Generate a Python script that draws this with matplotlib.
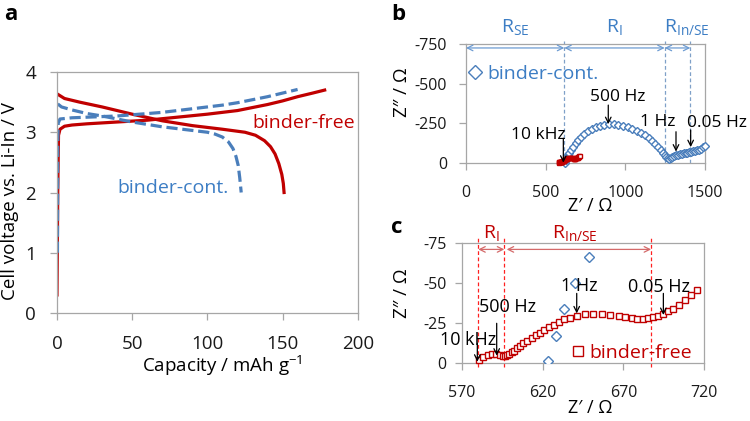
import matplotlib
matplotlib.use('Agg')
import matplotlib.pyplot as plt

plt.rcParams['font.family'] = ['Open Sans', 'DejaVu Sans']
plt.rcParams['axes.unicode_minus'] = False
plt.rcParams['mathtext.fontset'] = 'custom'
plt.rcParams['mathtext.rm'] = 'Open Sans'

RED = '#C00000'
BLUE = '#4A7EBB'
BLUE_TXT = '#3C7DC4'
FRAME = '#A6A6A6'

# panel a: charge / discharge curves (capacity mAh/g, voltage V)
free_chg_cap = [0, 0.5, 1, 2, 5, 10, 20, 40, 60, 80, 100, 120, 140, 150, 160, 170, 178]
free_chg_v = [0.3, 2.0, 2.95, 3.05, 3.1, 3.12, 3.14, 3.17, 3.2, 3.25, 3.3, 3.36, 3.46, 3.52, 3.59, 3.65, 3.7]
free_dis_cap = [0.5, 5, 15, 30, 50, 70, 90, 110, 125, 132, 138, 142, 145, 147.5, 149.5, 150.5, 151]
free_dis_v = [3.63, 3.56, 3.5, 3.42, 3.3, 3.19, 3.11, 3.05, 3.0, 2.95, 2.86, 2.76, 2.64, 2.48, 2.3, 2.15, 2.0]
cont_chg_cap = [0.3, 0.5, 0.8, 2, 10, 20, 30, 40, 50, 60, 70, 80, 90, 100, 110, 120, 130, 140, 150, 160]
cont_chg_v = [1.0, 2.8, 3.15, 3.22, 3.24, 3.25, 3.26, 3.27, 3.29, 3.31, 3.33, 3.36, 3.39, 3.42, 3.45, 3.49, 3.54, 3.59, 3.65, 3.71]
cont_dis_cap = [0.5, 3, 10, 20, 30, 40, 50, 60, 70, 80, 90, 100, 105, 110, 114, 117, 119, 120.5, 121.5, 122.5]
cont_dis_v = [3.47, 3.42, 3.37, 3.31, 3.27, 3.22, 3.17, 3.13, 3.09, 3.06, 3.03, 3.0, 2.97, 2.92, 2.84, 2.73, 2.6, 2.45, 2.25, 2.0]

# panels b, c: Nyquist data (Z' / Ohm, Z'' / Ohm)
cont_re = [623, 628, 633, 640, 649, 660, 673, 688, 704, 722, 742, 764, 788, 813, 840, 868, 897, 927,
           957, 987, 1016, 1045, 1073, 1099, 1124, 1147, 1168, 1188, 1206, 1222, 1236, 1248, 1258, 1266,
           1274, 1284, 1295, 1306, 1318, 1330, 1342, 1354, 1366, 1378, 1390, 1402, 1414, 1426, 1438,
           1450, 1462, 1474, 1486, 1497]
cont_im = [-1, -17, -34, -50, -66, -84, -103, -125, -145, -165, -183, -199, -213, -224, -233, -239, -243, -243,
           -240, -234, -226, -216, -203, -189, -174, -158, -141, -122, -103, -84, -66, -50, -38, -30,
           -28, -33, -38, -43, -48, -52, -56, -59, -62, -64, -66, -68, -70, -73, -76,
           -80, -85, -91, -98, -106]
free_re = [580.7, 583.2, 585.9, 588.4, 591.1, 593.6, 595.2, 596.7, 598.1, 599.3, 600.8, 602.2, 603.9, 606,
           608, 610.5, 613.2, 615.9, 618.4, 621, 624.1, 627, 630.3, 633.4, 637, 641.1, 646.3, 651.4,
           656.5, 661.8, 667, 671.1, 675.2, 678.7, 682, 685.5, 688.6, 691.7, 694.8, 697.9, 701, 704.7,
           708.2, 711.7, 715.5]
free_im = [-1.9, -3.9, -5.0, -5.4, -5.4, -5.0, -4.6, -4.6, -5.0, -5.6, -6.7, -7.7, -9.2, -10.6,
           -12.3, -14, -15.8, -17.5, -19, -20.6, -22.3, -23.8, -25.8, -27.3, -28.3, -29.6, -30.4, -30.6,
           -30.6, -30, -29.2, -28.8, -28.1, -27.7, -27.7, -28.1, -28.8, -29.6, -30.8, -32.3, -34, -36.5,
           -39.2, -42.3, -45.8]

# resistance boundaries (Z')
b_bounds = [0, 617, 1247, 1408]
b_labels = [r'R$_{\mathregular{SE}}$', r'R$_{\mathregular{I}}$', r'R$_{\mathregular{In/SE}}$']
c_bounds = [580.1, 596.2, 687.2]
c_labels = [r'R$_{\mathregular{I}}$', r'R$_{\mathregular{In/SE}}$']

# frequency annotations: label, text x, text y, arrow x, arrow start y, arrow end y
b_freq = [('10 kHz', 452, -176, 611, -156, -2),
          ('500 Hz', 954, -416, 893, -365, -245),
          ('1 Hz', 1205, -258, 1318, -197, -72),
          ('0.05 Hz', 1576, -252, 1410, -208, -100)]
c_freq = [('10 kHz', 573.6, -14.4, 579.5, -12.3, -0.8),
          ('500 Hz', 598.1, -35.2, 591.5, -24.8, -4.6),
          ('1 Hz', 642.5, -48, 641.1, -43.5, -31),
          ('0.05 Hz', 692, -47.7, 694.8, -43.5, -30)]


def style_axes(ax, fs, xpad, ypad):
    for s in ax.spines.values():
        s.set_color(FRAME)
        s.set_linewidth(0.9)
    ax.tick_params(colors=FRAME, labelcolor='#1a1a1a', labelsize=fs, length=5, width=0.9)
    ax.tick_params(axis='x', pad=xpad)
    ax.tick_params(axis='y', pad=ypad)


fig = plt.figure(figsize=(7.5, 4.21), dpi=100)

# ---------------- panel a
ax = fig.add_axes([0.076, 0.2565, 0.401, 0.5725])
ax.plot(free_chg_cap, free_chg_v, color=RED, lw=2.3)
ax.plot(free_dis_cap, free_dis_v, color=RED, lw=2.3)
ax.plot(cont_chg_cap, cont_chg_v, color=BLUE, lw=2.3, ls=(0, (3.5, 1.5)))
ax.plot(cont_dis_cap, cont_dis_v, color=BLUE, lw=2.3, ls=(0, (3.5, 1.5)))
ax.set_xlim(0, 200)
ax.set_ylim(0, 4)
ax.set_xticks([0, 50, 100, 150, 200])
ax.set_yticks([0, 1, 2, 3, 4])
style_axes(ax, 13.5, 11, 10)
ax.text(130, 3.15, 'binder-free', color=RED, fontsize=14, va='center', ha='left', clip_on=False)
ax.text(40, 2.08, 'binder-cont.', color=BLUE_TXT, fontsize=14, va='center', ha='left')
fig.text(222 / 750, 1 - 366 / 421, r'Capacity / mAh g$^{\mathregular{-1}}$', fontsize=13.5,
         ha='center', va='center')
fig.text(10 / 750, 1 - 201 / 421, 'Cell voltage vs. Li-In / V', fontsize=13.5,
         ha='center', va='center', rotation=90)
fig.text(0.005, 0.965, 'a', fontsize=16, fontweight='bold', ha='left', va='center')

# ---------------- panel b
bx = fig.add_axes([0.6213, 0.6128, 0.3187, 0.2827])
for xb in b_bounds[1:]:
    bx.plot([xb, xb], [0, -770], color='#7FA0C8', lw=0.9, ls=(0, (3, 2)), clip_on=False, zorder=1)
for i in range(3):
    bx.annotate('', xy=(b_bounds[i + 1], -725), xytext=(b_bounds[i], -725),
                arrowprops=dict(arrowstyle='<->', color='#6C9BD2', lw=0.9, shrinkA=0, shrinkB=0))
    bx.text((b_bounds[i] + b_bounds[i + 1]) / 2 if i < 2 else 1385, -849, b_labels[i],
            color=BLUE_TXT, fontsize=14, ha='center', va='center', clip_on=False)
bx.plot(cont_re, cont_im, ls='none', marker='D', ms=3.9, mfc='white', mec=BLUE, mew=1.0,
        label='binder-cont.', clip_on=False, zorder=3)
bx.plot(free_re, free_im, ls='none', marker='s', ms=3.2, mfc='white', mec=RED, mew=1.0,
        clip_on=False, zorder=4)
for lab, tx, ty, axx, ay0, ay1 in b_freq:
    bx.text(tx, ty, lab, fontsize=12.5, ha='center', va='center', clip_on=False, zorder=6)
    bx.annotate('', xy=(axx, ay1), xytext=(axx, ay0),
                arrowprops=dict(arrowstyle='->', color='black', lw=0.9, shrinkA=0, shrinkB=0), zorder=6)
bx.set_xlim(0, 1500)
bx.set_ylim(0, -750)
bx.set_xticks([0, 500, 1000, 1500])
bx.set_yticks([0, -250, -500, -750])
style_axes(bx, 11.5, 11, 8.5)
leg = bx.legend(loc='center left', bbox_to_anchor=(0.015, 0.75), frameon=False, fontsize=14,
                handlelength=0.6, handletextpad=0.3, borderpad=0, borderaxespad=0,
                markerscale=1.9, labelcolor=BLUE_TXT)
fig.text(590 / 750, 1 - 206 / 421, 'Z\u2032 / \u03a9', fontsize=13, ha='center', va='center')
fig.text(402 / 750, 1 - 92 / 421, 'Z\u2033 / \u03a9', fontsize=13.5, ha='center', va='center',
         rotation=90)
fig.text(0.522, 0.965, 'b', fontsize=16, fontweight='bold', ha='left', va='center')

# ---------------- panel c
cx = fig.add_axes([0.616, 0.1378, 0.3227, 0.285])
for xb in c_bounds:
    cx.plot([xb, xb], [2.3, -78], color='#FF2020', lw=0.9, ls=(0, (3, 2)), clip_on=False, zorder=1)
cx.annotate('', xy=(c_bounds[1], -71), xytext=(c_bounds[0], -71),
            arrowprops=dict(arrowstyle='<->', color='#D46A6A', lw=0.9, shrinkA=0, shrinkB=0))
cx.annotate('', xy=(c_bounds[2], -71), xytext=(c_bounds[1] + 1.5, -71),
            arrowprops=dict(arrowstyle='<->', color='#D46A6A', lw=0.9, shrinkA=0, shrinkB=0))
cx.text(588.4, -81, c_labels[0], color=RED, fontsize=14, ha='center', va='center', clip_on=False)
cx.text(640, -81, c_labels[1], color=RED, fontsize=14, ha='center', va='center', clip_on=False)
cx.plot(cont_re, cont_im, ls='none', marker='D', ms=4.6, mfc='white', mec=BLUE, mew=1.0, zorder=3)
cx.plot(free_re, free_im, ls='none', marker='s', ms=4.3, mfc='white', mec=RED, mew=1.0,
        label='binder-free', clip_on=False, zorder=4)
for lab, tx, ty, axx, ay0, ay1 in c_freq:
    cx.text(tx, ty, lab, fontsize=13, ha='center', va='center', clip_on=False, zorder=6)
    cx.annotate('', xy=(axx, ay1), xytext=(axx, ay0),
                arrowprops=dict(arrowstyle='->', color='black', lw=0.9, shrinkA=0, shrinkB=0), zorder=6)
cx.set_xlim(570, 720)
cx.set_ylim(0, -75)
cx.set_xticks([570, 620, 670, 720])
cx.set_yticks([0, -25, -50, -75])
style_axes(cx, 11.5, 11, 6)
cx.legend(loc='center left', bbox_to_anchor=(0.455, 0.085), frameon=False, fontsize=14,
          handlelength=0.6, handletextpad=0.3, borderpad=0, borderaxespad=0,
          markerscale=1.8, labelcolor=RED)
fig.text(590 / 750, 1 - 408 / 421, 'Z\u2032 / \u03a9', fontsize=13, ha='center', va='center')
fig.text(402 / 750, 1 - 293 / 421, 'Z\u2033 / \u03a9', fontsize=13.5, ha='center', va='center',
         rotation=90)
fig.text(0.522, 0.46, 'c', fontsize=16, fontweight='bold', ha='left', va='center')

fig.savefig('out.png', dpi=100)
